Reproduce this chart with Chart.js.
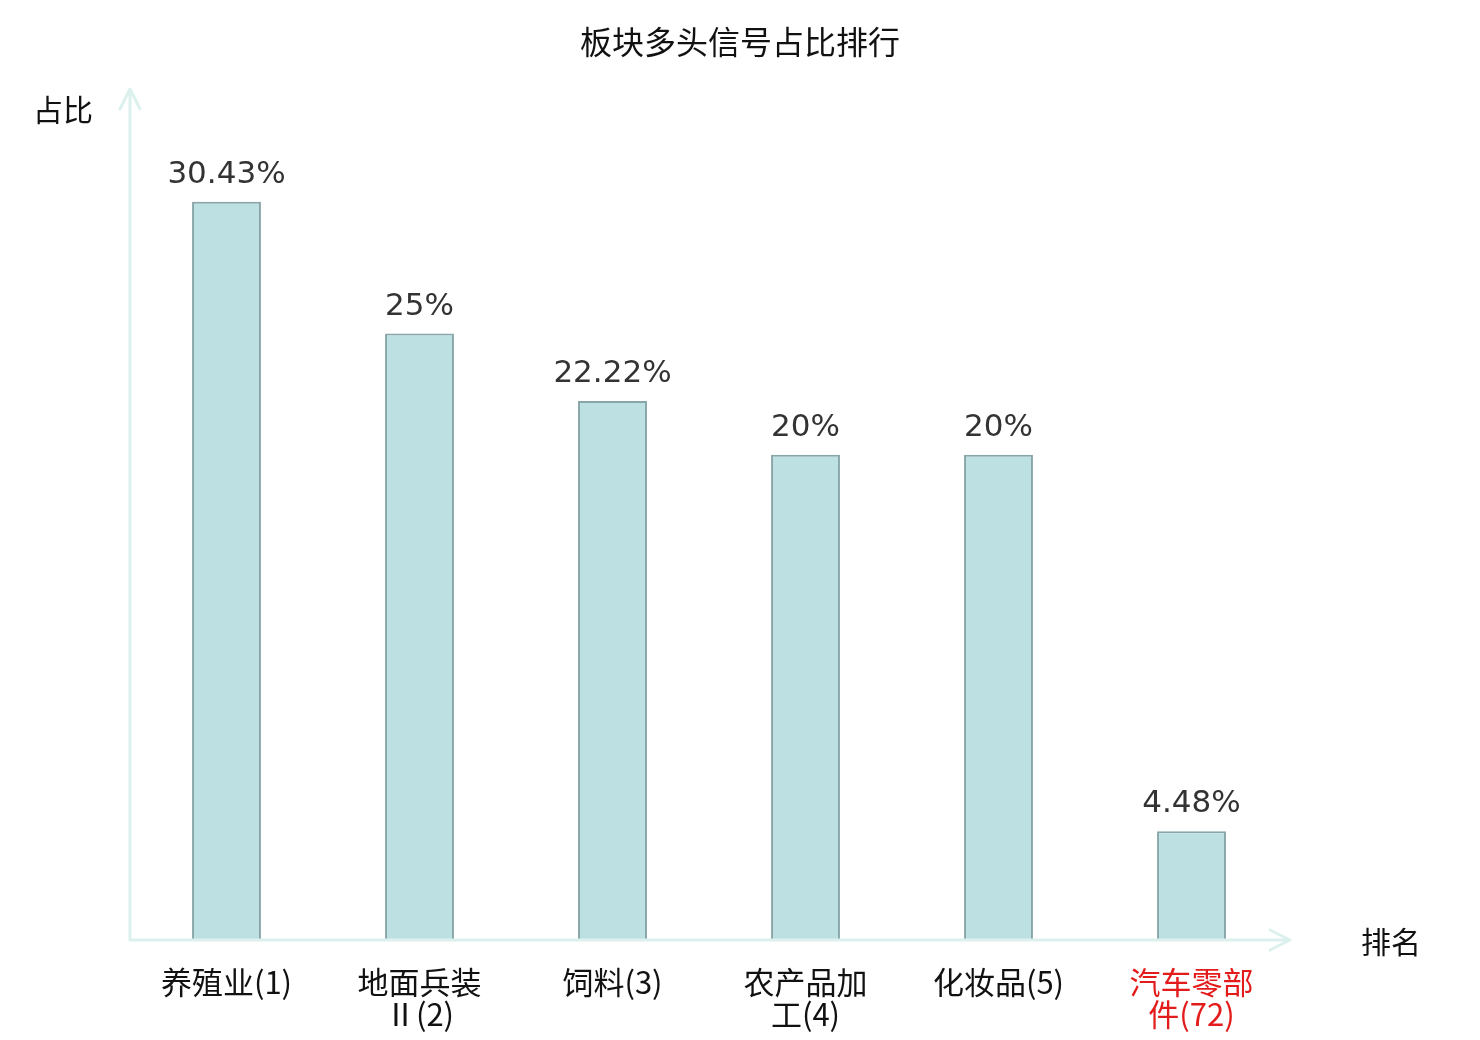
<!DOCTYPE html>
<html>
<head>
<meta charset="utf-8">
<script src="https://cdn.jsdelivr.net/npm/chart.js@4/dist/chart.umd.min.js"></script>
<style>
  html, body { margin: 0; padding: 0; background: #ffffff; }
  #wrap { width: 1480px; height: 1040px; position: relative; }
</style>
</head>
<body>
<div id="wrap"><canvas id="c"></canvas></div>
<script>
// ---- data ----
const chartTitle = "板块多头信号占比排行";
const tickLabels = [
  ["养殖业(1)"],
  ["地面兵装", "Ⅱ(2)"],
  ["饲料(3)"],
  ["农产品加", "工(4)"],
  ["化妆品(5)"],
  ["汽车零部", "件(72)"]
];
const shareValues = [30.43, 25, 22.22, 20, 20, 4.48];
const yAxisName = "占比";
const xAxisName = "排名";
const highlightIndex = 5;

// ---- styles ----
const CJK = '"Noto Sans CJK SC", "Noto Sans", sans-serif';
const TICKFONT = '"DejaVu Sans ExtraLight", "Noto Sans CJK SC", sans-serif';
const axisColor = '#dcf1ee';

const decorPlugin = {
  id: 'decor',
  afterDatasetsDraw(chart) {
    const ctx = chart.ctx;
    const a = chart.chartArea;
    ctx.save();
    // title centred on the canvas
    ctx.fillStyle = '#111111';
    ctx.font = '32px ' + CJK;
    ctx.textAlign = 'center';
    ctx.textBaseline = 'middle';
    ctx.fillText(chartTitle, chart.width / 2, 42);

    // axes with arrows
    ctx.strokeStyle = axisColor;
    ctx.lineWidth = 3;
    ctx.lineCap = 'round';
    ctx.lineJoin = 'round';
    const tipY = a.top - 2;
    const tipX = a.right + 2;
    ctx.beginPath();
    ctx.moveTo(a.left, a.bottom);
    ctx.lineTo(a.left, tipY);
    ctx.moveTo(a.left - 10, tipY + 20);
    ctx.lineTo(a.left, tipY);
    ctx.lineTo(a.left + 10, tipY + 20);
    ctx.moveTo(a.left, a.bottom);
    ctx.lineTo(tipX, a.bottom);
    ctx.moveTo(tipX - 20, a.bottom - 10);
    ctx.lineTo(tipX, a.bottom);
    ctx.lineTo(tipX - 20, a.bottom + 10);
    ctx.stroke();

    // axis names
    ctx.fillStyle = '#111111';
    ctx.font = '30px ' + CJK;
    ctx.fillText(yAxisName, a.left - 67, a.top + 19);
    ctx.fillText(xAxisName, a.right + 103, a.bottom + 2);

    // value labels
    const meta = chart.getDatasetMeta(0);
    ctx.font = '31px "DejaVu Sans", sans-serif';
    ctx.fillStyle = '#333333';
    ctx.textBaseline = 'alphabetic';
    meta.data.forEach((bar, i) => {
      ctx.fillText(shareValues[i] + '%', bar.x, bar.y - 19);
    });
    ctx.restore();
  }
};

new Chart(document.getElementById('c'), {
  type: 'bar',
  data: {
    labels: tickLabels,
    datasets: [{
      data: shareValues,
      backgroundColor: '#bde0e3',
      borderColor: '#88a6a8',
      borderWidth: 2,
      categoryPercentage: 1,
      barPercentage: 0.357
    }]
  },
  options: {
    responsive: true,
    maintainAspectRatio: false,
    animation: false,
    layout: { padding: { left: 130, right: 192, top: 91, bottom: 0 } },
    plugins: {
      legend: { display: false },
      tooltip: { enabled: false },
      title: { display: false }
    },
    scales: {
      x: {
        grid: { display: false, drawTicks: false },
        border: { display: false },
        afterFit(scale) { scale.height = 100; },
        ticks: {
          padding: 26,
          maxRotation: 0,
          autoSkip: false,
          font: { family: TICKFONT, size: 31, lineHeight: 1.03 },
          color: (c) => c.index === highlightIndex ? '#e41b1b' : '#111111'
        }
      },
      y: {
        display: false,
        min: 0,
        max: 35
      }
    }
  },
  plugins: [decorPlugin]
});
</script>
</body>
</html>
